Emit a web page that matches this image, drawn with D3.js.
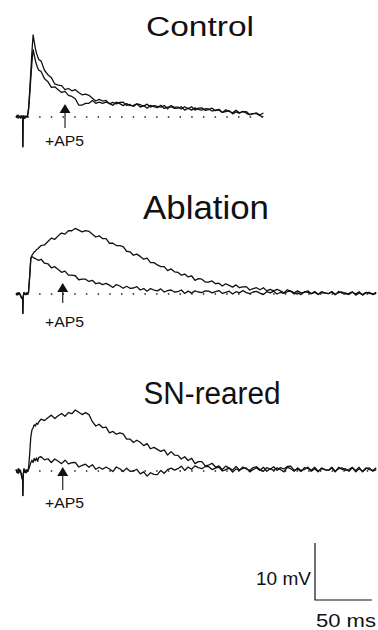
<!DOCTYPE html>
<html>
<head>
<meta charset="utf-8">
<script src="https://cdn.jsdelivr.net/npm/d3@7"></script>
<style>
  html, body { margin: 0; padding: 0; background: #fff; }
  svg { display: block; }
  text { font-family: "Liberation Sans", Arial, Helvetica, sans-serif; fill: #111; }
</style>
</head>
<body>
<svg id="chart" width="378" height="630"></svg>
<script>
// ---------- DATA (time in ms from trace start, voltage in mV from resting baseline) ----------
const titles = ["Control", "Ablation", "SN-reared"];
const drugLabel = "+AP5";
const scaleBarLabels = ["10 mV", "50 ms"];
const scaleBarValues = [10, 50]; // mV, ms

// time grid: fine around the stimulus, then every 3 ms
const tEarly = [0,1,2,3,4,5,5.8,6,6.3,7,8,9,10,11,12,13,14,15,16,17,18,19,20];
const tLate = [22,25,28,31,34,37,40,43,46,49,52,55,58,61,64,67,70,73,76,79,82,85,88,91,94,97,100,103,106,109,112,115,118,121,124,127,130,133,136,139,142,145,148,151,154,157,160,163,166,169,172,175,178,181,184,187,190,193,196,199,202,205,208,211,214,217,220,223,226,229,232,235,238,241,244,247,250,253,256,259,262,265,268,271,274,277,280,283,286,289,292,295,298,301,304,307,310,313,316];

// Control (runs to 217 ms)
const controlNoAP5 = [0.2,-0.1,0.3,0.1,-0.2,0.2,0.0,-5.2,0.2,-0.3,0.1,0.2,0.0,1.5,4.5,8.0,11.5,14.4,13.2,12.0,11.2,10.6,10.1,
  9.8,8.2,7.4,6.9,5.8,5.6,5.5,4.8,5.0,4.6,
  4.8,4.3,3.9,4.0,3.8,3.3,2.8,3.1,2.8,2.9,
  2.3,2.55,2.3,2.55,2.6,2.05,2.2,1.85,2.3,2.15,
  1.9,2.25,1.75,2.0,1.85,1.75,2.0,1.45,2.0,1.7,
  1.75,1.4,1.8,1.45,1.8,1.2,1.55,1.6,1.15,1.3,
  1.55,1.1,1.25,0.8,1.25,1.0,0.75,1.2,0.75,0.9,
  0.95,0.4,0.6,0.7,0.35,0.7];
const controlAP5 = [-0.1,0.3,-0.2,0.0,0.2,-0.1,0.1,-5.2,0.1,0.2,-0.2,0.0,0.1,1.2,3.8,6.8,9.6,11.8,10.9,9.9,9.2,8.6,8.2,
  8.0,6.7,6.2,5.2,5.3,4.8,4.3,4.5,3.8,3.6,
  3.2,2.1,2.1,2.4,2.4,2.9,2.4,2.6,2.4,2.6,
  2.4,2.05,2.6,2.35,2.0,2.35,2.0,2.05,2.3,1.75,
  2.0,1.55,2.05,1.8,1.65,2.05,1.5,1.75,1.8,1.5,
  1.55,1.8,1.2,1.55,1.2,1.6,1.35,1.2,1.45,1.4,
  1.05,1.2,1.35,0.8,0.95,1.1,0.55,0.9,0.65,1.0,
  0.65,0.4,0.6,0.6,0.25,0.0];

// Ablation (runs to 316 ms)
const ablationNoAP5 = [0.1,-0.2,0.2,0.1,-0.3,-0.8,-0.6,-3.4,-0.4,0.3,-0.1,0.2,0.0,0.3,3.0,6.2,6.8,7.1,7.4,7.5,7.8,7.9,8.1,
  8.5,8.6,9.2,9.8,9.6,10.2,10.7,10.5,11.1,11.1,
  11.5,11.2,10.9,11.1,11.0,10.5,10.0,10.2,9.7,9.7,
  8.9,8.9,8.5,8.5,8.3,7.5,7.4,6.8,7.0,6.6,
  6.1,6.3,5.5,5.5,5.1,4.8,4.8,4.1,4.4,3.9,
  3.8,3.3,3.5,3.0,3.2,2.4,2.7,2.6,2.1,2.1,
  2.3,1.8,1.9,1.4,1.8,1.5,1.2,1.6,1.1,1.25,
  1.3,0.7,0.95,1.1,0.75,1.1,0.55,0.8,0.55,0.8,
  0.55,0.2,0.75,0.5,0.2,0.55,0.2,0.3,0.55,0.05,
  0.3,-0.1,0.4,0.2,0.05,0.45,-0.05,0.25,0.35,0.0,
  0.1,0.4,-0.2,0.2,-0.1,0.3,0.1,0.0,0.3];
const ablationAP5 = [-0.1,0.2,-0.1,0.2,-0.2,-0.7,-0.7,-3.4,-0.5,0.2,0.0,-0.1,0.1,0.4,3.2,6.3,6.6,6.4,6.3,6.2,6.1,6.0,5.9,
  6.1,5.4,5.3,4.6,4.8,4.3,3.8,4.0,3.3,3.3,
  3.2,2.5,2.6,2.6,2.2,2.4,1.8,1.95,1.65,1.85,
  1.55,1.15,1.65,1.4,1.0,1.35,1.0,1.05,1.3,0.7,
  0.95,0.5,0.95,0.7,0.55,0.9,0.35,0.6,0.7,0.35,
  0.4,0.7,0.1,0.5,0.15,0.55,0.35,0.25,0.55,0.5,
  0.2,0.4,0.6,0.1,0.3,0.5,0.0,0.4,0.2,0.6,
  0.25,0.05,0.35,0.45,0.15,-0.1,0.4,0.2,0.5,0.0,
  0.3,0.1,0.4,0.5,0.0,0.2,-0.1,0.4,0.3,0.05,
  0.45,-0.05,0.25,0.15,0.05,0.35,-0.15,0.45,0.15,0.2,
  -0.1,0.3,0.0,0.4,-0.2,0.2,0.3,-0.1,0.1];

// SN-reared (runs to 316 ms)
const snNoAP5 = [0.3,-0.3,0.4,-0.2,0.1,-1.0,-1.6,-4.3,-0.8,0.4,-0.3,0.2,-0.1,0.5,3.0,6.0,7.2,7.6,8.1,7.9,8.4,8.2,8.6,
  9.1,8.85,9.35,9.8,9.2,9.7,10.1,9.6,10.25,10.05,
  10.7,10.3,9.9,10.25,9.9,8.65,7.9,8.2,7.6,7.7,
  6.7,6.95,6.45,6.7,6.5,5.6,5.6,5.0,5.4,5.05,
  4.45,4.8,3.9,4.15,3.8,3.45,3.7,2.8,3.4,2.8,
  2.75,2.1,2.5,1.85,2.25,1.3,1.65,1.65,0.9,1.05,
  1.35,0.7,0.9,0.25,0.85,0.5,0.15,0.8,0.2,0.45,
  0.55,-0.15,0.25,0.55,0.1,0.65,-0.05,0.4,0.1,0.55,
  0.25,-0.15,0.65,0.4,-0.05,0.55,0.1,0.25,0.65,-0.05,
  0.4,-0.15,0.55,0.25,0.1,0.65,-0.05,0.4,0.55,0.1,
  0.25,0.65,-0.15,0.4,-0.05,0.55,0.25,0.1,0.55];
const snAP5 = [0.2,-0.2,-0.4,0.3,-0.2,-0.9,-1.5,-4.3,-0.6,0.3,0.1,-0.3,0.2,0.2,0.8,1.5,1.9,1.5,2.2,1.8,2.3,1.7,2.4,
  2.5,1.95,2.15,1.5,2.1,1.7,1.3,1.9,1.25,1.45,
  1.5,0.7,1.0,1.2,0.65,1.1,0.3,0.65,0.3,0.7,
  0.35,-0.1,0.7,0.4,-0.1,0.5,-0.05,0.0,0.3,-0.5,
  -0.15,-0.9,-0.3,-0.6,-0.65,0.1,-0.4,0.25,0.5,0.15,
  0.4,0.85,0.1,0.7,0.3,0.9,0.6,0.4,0.8,0.75,
  0.25,0.5,0.7,0.0,0.25,0.5,-0.2,0.35,0.1,0.7,
  0.35,0.1,0.6,0.75,0.25,-0.05,0.6,0.3,0.75,0.1,
  0.6,0.35,0.8,0.85,0.1,0.35,-0.1,0.6,0.45,0.15,
  0.65,-0.05,0.4,0.25,0.1,0.55,-0.15,0.65,0.25,0.4,
  -0.05,0.55,0.1,0.65,-0.15,0.4,0.55,-0.05,0.25];

const arrowTimes = [43, 41, 41];  // ms where the AP5 arrow points

// ---------- LAYOUT ----------
const svg = d3.select("#chart");
const pxPerMs = 1.14, pxPerMv = 5.7;
const x = d3.scaleLinear().domain([0, 316]).range([16, 16 + 316 * pxPerMs]);
const timeGrid = tEarly.concat(tLate);

const panels = [
  { title: titles[0], series: [controlNoAP5, controlAP5], base: 117, titleX: 200, titleY: 36, fs: 27, tl: 108,
    arrowTip: -13, arrowEnd: 11, labelY: 146 },
  { title: titles[1], series: [ablationNoAP5, ablationAP5], base: 294, titleX: 206, titleY: 219, fs: 33, tl: 126,
    arrowTip: -11, arrowEnd: 9, labelY: 327 },
  { title: titles[2], series: [snNoAP5, snAP5], base: 471, titleX: 212, titleY: 404, fs: 31, tl: 137,
    arrowTip: -4, arrowEnd: 19, labelY: 508 }
];

panels.forEach((p, i) => {
  const y = d3.scaleLinear().domain([0, 10]).range([p.base, p.base - 10 * pxPerMv]);
  const g = svg.append("g");
  const lastT = timeGrid[p.series[0].length - 1];

  // dotted resting baseline
  g.append("line")
    .attr("x1", x(10)).attr("x2", x(lastT))
    .attr("y1", y(0)).attr("y2", y(0))
    .attr("stroke", "#222").attr("stroke-width", 1.4)
    .attr("stroke-dasharray", "1.5,10.2");

  const line = d3.line().x((d, k) => x(timeGrid[k])).y(d => y(d));
  p.series.forEach(s => {
    g.append("path").datum(s)
      .attr("d", line)
      .attr("fill", "none").attr("stroke", "#111")
      .attr("stroke-width", 1.3).attr("stroke-linejoin", "round");
  });

  // title
  g.append("text").attr("x", p.titleX).attr("y", p.titleY)
    .attr("text-anchor", "middle").attr("font-size", p.fs)
    .attr("textLength", p.tl).attr("lengthAdjust", "spacingAndGlyphs")
    .text(p.title);

  // AP5 arrow
  const ax = x(arrowTimes[i]);
  const tipY = p.base + p.arrowTip;
  g.append("line").attr("x1", ax).attr("x2", ax)
    .attr("y1", tipY + 6).attr("y2", p.base + p.arrowEnd)
    .attr("stroke", "#111").attr("stroke-width", 1.1);
  g.append("path")
    .attr("d", `M${ax},${tipY} L${ax - 5.5},${tipY + 9} L${ax + 5.5},${tipY + 9} Z`)
    .attr("fill", "#111");
  g.append("text").attr("x", 45).attr("y", p.labelY)
    .attr("font-size", 15).attr("textLength", 39).attr("lengthAdjust", "spacingAndGlyphs")
    .text(drugLabel);
});

// ---------- SCALE BAR ----------
const sbX = 315, sbY = 600;
const vLen = scaleBarValues[0] * pxPerMv;
const hLen = x(scaleBarValues[1]) - x(0);
svg.append("path")
  .attr("d", `M${sbX},${sbY - vLen} L${sbX},${sbY} L${sbX + hLen},${sbY}`)
  .attr("fill", "none").attr("stroke", "#111").attr("stroke-width", 1.2);
svg.append("text").attr("x", sbX - 4).attr("y", 585)
  .attr("text-anchor", "end").attr("font-size", 19)
  .attr("textLength", 55).attr("lengthAdjust", "spacingAndGlyphs")
  .text(scaleBarLabels[0]);
svg.append("text").attr("x", sbX + 1).attr("y", 627)
  .attr("font-size", 19).attr("textLength", 60).attr("lengthAdjust", "spacingAndGlyphs")
  .text(scaleBarLabels[1]);
</script>
</body>
</html>
